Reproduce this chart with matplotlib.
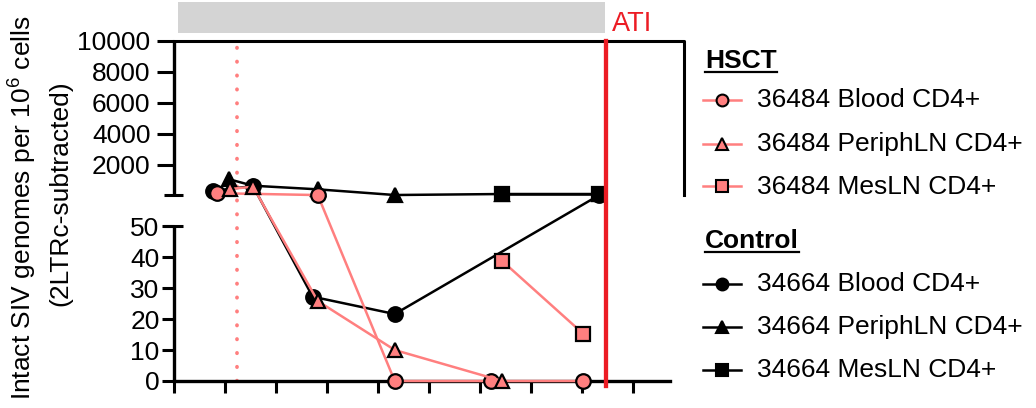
import numpy as np
import matplotlib
matplotlib.use("Agg")
import matplotlib.pyplot as plt
from matplotlib.lines import Line2D
from matplotlib.patches import Rectangle
from matplotlib.transforms import blended_transform_factory

plt.rcParams['font.family'] = ['Liberation Sans', 'DejaVu Sans']
plt.rcParams['mathtext.fontset'] = 'custom'
plt.rcParams['mathtext.rm'] = 'Liberation Sans'

# ---------------- data (x in tick units, y = intact genomes per 10^6 cells) -------------
hsct_blood_x = [0.84, 2.82, 4.33, 6.21, 8.03]
hsct_blood_y = [180, 60, 0, 0, 0]
hsct_periph_x = [1.10, 1.55, 2.82, 4.33, 6.44]
hsct_periph_y = [450, 600, 25.8, 10, 0]
hsct_mes_x = [6.44, 8.03]
hsct_mes_y = [38.7, 15.2]

ctrl_blood_x = [0.77, 1.55, 2.72, 4.33, 8.34]
ctrl_blood_y = [330, 640, 27.2, 21.6, 55]
ctrl_periph_x = [1.08, 1.55, 2.82, 4.33, 6.44, 8.34]
ctrl_periph_y = [1080, 663, 430, 63, 127, 127]
ctrl_mes_x = [6.44, 8.34]
ctrl_mes_y = [127, 127]

legend_labels = ["36484 Blood CD4+", "36484 PeriphLN CD4+", "36484 MesLN CD4+",
                 "34664 Blood CD4+", "34664 PeriphLN CD4+", "34664 MesLN CD4+"]
group_titles = ["HSCT", "Control"]
low_ticks = [0, 10, 20, 30, 40, 50]
high_ticks = [2000, 4000, 6000, 8000, 10000]
x_ticks = list(range(10))
treatment_x = 1.24
ati_x = 8.47
bar_span = (0.08, 8.46)

PINK = '#ff7f7f'
RED = '#ec1c24'

# ---------------- broken y scale ----------------
def fwd(v):
    v = np.asarray(v, dtype=float)
    return np.where(v <= 50, v * 3.1, 185.8 + (v - 50) * 0.0155)

def inv(u):
    u = np.asarray(u, dtype=float)
    return np.where(u <= 155, u / 3.1,
                    np.where(u < 185.8, 50.0, 50 + (u - 185.8) / 0.0155))

W, H = 1036, 408
fig = plt.figure(figsize=(W / 100, H / 100), dpi=100)
ax = fig.add_axes([174 / W, (H - 381) / H, (670 - 174) / W, (381 - 41) / H])
ax.set_yscale('function', functions=(fwd, inv))
ax.set_xlim(0, 9.73)
ax.set_ylim(0, 10000)

for s in ['left', 'right', 'top']:
    ax.spines[s].set_visible(False)
ax.spines['bottom'].set_linewidth(2.4)

ax.set_xticks(x_ticks)
ax.set_xticklabels([])
ax.tick_params(axis='x', length=8.6, width=2.2, direction='out')

ax.set_yticks(low_ticks, labels=[str(t) for t in low_ticks])
ax.set_yticks(high_ticks, labels=[str(t) for t in high_ticks], minor=True)
ax.tick_params(axis='y', which='major', length=8.9, width=2.2, pad=1.5, labelsize=19)
ax.tick_params(axis='y', which='minor', length=12.5, width=2.2, pad=4.5, labelsize=19)

# y spine segments and break marks
ax.plot([0, 0], [0, 50], color='k', lw=2.4, clip_on=False, solid_capstyle='butt', zorder=5)
ax.plot([0, 0], [50.01, 10000], color='k', lw=2.4, clip_on=False, solid_capstyle='butt', zorder=5)
ax.plot([-0.2, 0.18], [50, 50], color='k', lw=2.2, clip_on=False, solid_capstyle='butt', zorder=5)
ax.plot([-0.2, 0.18], [50.01, 50.01], color='k', lw=2.2, clip_on=False, solid_capstyle='butt', zorder=5)
# top frame
ax.plot([0, 10, 10], [10000, 10000, 50.01], color='k', lw=2.2, clip_on=False, zorder=5)

# reference lines
ax.axvline(treatment_x, 0, 1, color=PINK, lw=2.7, linestyle=(0, (0.1, 3.6)),
           dash_capstyle='round', zorder=1)
ax.axvline(ati_x, ymin=-5 / 340, ymax=1, color=RED, lw=3.1, clip_on=False, zorder=10)

# data
ms = 10.5
mew = 1.6
lw = 1.8
ax.plot(ctrl_blood_x, ctrl_blood_y, color='k', lw=lw, marker='o', ms=ms, mfc='k', mec='k', mew=mew, clip_on=False, zorder=3)
ax.plot(ctrl_periph_x, ctrl_periph_y, color='k', lw=lw, marker='^', ms=ms, mfc='k', mec='k', mew=mew, clip_on=False, zorder=3)
ax.plot(ctrl_mes_x, ctrl_mes_y, color='k', lw=lw, marker='s', ms=ms - 1, mfc='k', mec='k', mew=mew, clip_on=False, zorder=3)
ax.plot(hsct_blood_x, hsct_blood_y, color=PINK, lw=lw, marker='o', ms=ms, mfc=PINK, mec='k', mew=mew, clip_on=False, zorder=4)
ax.plot(hsct_periph_x, hsct_periph_y, color=PINK, lw=lw, marker='^', ms=ms, mfc=PINK, mec='k', mew=mew, clip_on=False, zorder=4)
ax.plot(hsct_mes_x, hsct_mes_y, color=PINK, lw=lw, marker='s', ms=ms - 1, mfc=PINK, mec='k', mew=mew, clip_on=False, zorder=4)

# grey treatment bar + ATI label
bt = blended_transform_factory(ax.transData, fig.transFigure)
fig.add_artist(Rectangle((bar_span[0], 1 - 33 / H), bar_span[1] - bar_span[0], 31 / H,
                         transform=bt, facecolor='#d4d4d4', edgecolor='none'))
fig.text(612 / W, 1 - 30.7 / H, 'ATI', color=RED, fontsize=19.5, ha='left', va='baseline')

# y label
fig.text(22 / W, 1 - 208 / H, r'Intact SIV genomes per 10$^{\mathregular{6}}$ cells',
         rotation=90, ha='center', va='center', fontsize=19)
fig.text(60 / W, 1 - 193 / H, '(2LTRc-subtracted)', rotation=90, ha='center',
         va='center', fontsize=19)

# legend (manual)
styles = [
    dict(color=PINK, marker='o', mfc=PINK, mec='k'),
    dict(color=PINK, marker='^', mfc=PINK, mec='k'),
    dict(color=PINK, marker='s', mfc=PINK, mec='k'),
    dict(color='k', marker='o', mfc='k', mec='k'),
    dict(color='k', marker='^', mfc='k', mec='k'),
    dict(color='k', marker='s', mfc='k', mec='k'),
]
baselines = [107, 151, 194, 291, 334, 377]
title_baselines = [68, 248]
renderer = fig.canvas.get_renderer()
for title, yb in zip(group_titles, title_baselines):
    t = fig.text(705 / W, 1 - yb / H, title, fontsize=19, fontweight='bold',
                 ha='left', va='baseline')
    bb = t.get_window_extent(renderer)
    uy = 1 - (yb + 3.8) / H
    fig.add_artist(Line2D([bb.x0 / W, bb.x1 / W], [uy, uy], transform=fig.transFigure,
                          color='k', lw=1.6))
for lab, st, yb in zip(legend_labels, styles, baselines):
    ym = 1 - (yb - 7.5) / H
    msz = 8.5 if st['marker'] != 's' else 8
    fig.add_artist(Line2D([703 / W, 722 / W, 741 / W], [ym, ym, ym], transform=fig.transFigure,
                          color=st['color'], lw=1.8, marker=st['marker'], markevery=[1],
                          ms=msz, mfc=st['mfc'], mec=st['mec'], mew=1.5))
    fig.text(757 / W, 1 - yb / H, lab, fontsize=19, ha='left', va='baseline')

fig.savefig('out.png', dpi=100)
